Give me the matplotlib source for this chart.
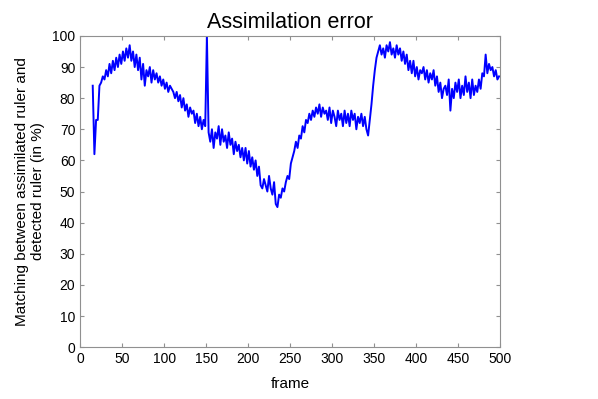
import numpy as np
import matplotlib
matplotlib.use("Agg")
import matplotlib.pyplot as plt

plt.rcParams["font.family"] = ["Liberation Sans", "DejaVu Sans"]

# frames (every 2nd frame) and matching values
frames = np.arange(15, 500, 2)
matching = [
    84, 62, 73, 73, 84, 85, 87, 86, 89, 87,
    91, 88, 92, 89, 93, 90, 94, 91, 95, 92,
    96, 93, 97, 92, 95, 90, 94, 89, 93, 86,
    91, 84, 89, 87, 90, 85, 89, 86, 88, 85,
    87, 84, 86, 83, 85, 82, 84, 83, 82, 80,
    82, 79, 81, 77, 80, 76, 78, 74, 77, 75,
    76, 72, 75, 71, 74, 70, 73, 71, 100, 69,
    66, 70, 64, 69, 67, 71, 65, 70, 66, 68,
    64, 69, 65, 67, 62, 66, 63, 65, 61, 64,
    60, 64, 59, 63, 58, 61, 57, 60, 55, 58,
    52, 51, 54, 52, 50, 55, 51, 49, 53, 46,
    45, 49, 48, 51, 50, 53, 55, 54, 59, 61,
    63, 66, 64, 68, 67, 71, 69, 73, 72, 75,
    73, 76, 74, 77, 75, 78, 74, 77, 75, 76,
    73, 77, 72, 76, 74, 71, 76, 73, 75, 71,
    76, 72, 75, 71, 76, 73, 75, 70, 74, 72,
    75, 71, 74, 70, 68, 73, 78, 84, 89, 93,
    95, 97, 94, 96, 93, 97, 95, 98, 94, 96,
    93, 97, 94, 96, 92, 95, 91, 94, 89, 92,
    88, 92, 87, 90, 86, 89, 88, 90, 86, 89,
    85, 88, 86, 89, 84, 87, 82, 85, 80, 83,
    84, 81, 86, 76, 83, 80, 85, 82, 86, 80,
    84, 81, 87, 82, 85, 80, 86, 81, 84, 82,
    86, 83, 88, 87, 94, 88, 91, 89, 90, 87,
    89, 86, 87,
]

xticks = np.arange(0, 501, 50)
yticks = np.arange(0, 101, 10)

fig = plt.figure(figsize=(5.98, 3.99), dpi=100)
ax = fig.add_axes([0.134, 0.130, 0.702, 0.780])
ax.plot(frames, matching, color="#0000ff", lw=1.4)

ax.set_xlim(0, 500); ax.set_ylim(0, 100)
ax.set_xticks(xticks); ax.set_yticks(yticks)
ax.tick_params(direction="in", top=True, right=True, length=3,
               color="#909090", labelsize=10)
for s in ax.spines.values():
    s.set_color("#909090"); s.set_linewidth(0.8)

ax.set_title("Assimilation error", fontsize=15.5, pad=6)
ax.set_xlabel("frame", fontsize=11, labelpad=8)
ax.set_ylabel("Matching between assimilated ruler and\ndetected ruler (in %)",
              fontsize=11, labelpad=5)

fig.savefig("out.png", dpi=100)
